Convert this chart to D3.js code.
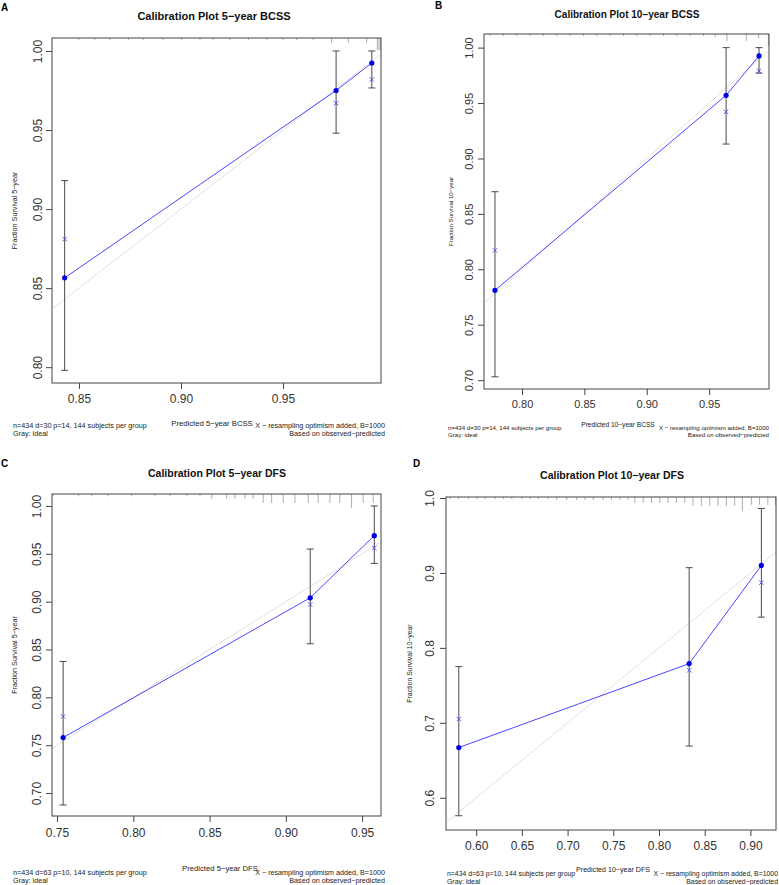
<!DOCTYPE html>
<html>
<head>
<meta charset="utf-8">
<script src="https://cdn.jsdelivr.net/npm/d3@7"></script>
<style>
  body { margin: 0; background: #fff; }
  svg text { font-family: "Liberation Sans", Arial, sans-serif; }
</style>
</head>
<body>
<div class="chart"></div>
<script>
// ---- data ----
// A: 5-year BCSS
var predA = [0.843, 0.976, 0.9935];
var obsA = [0.8565, 0.975, 0.9924];
var corrA = [0.881, 0.967, 0.982];
var lowA = [0.798, 0.948, 0.9766];
var highA = [0.918, 1.0, 1.0];
var rugXA = [0.850, 0.8578, 0.8652, 0.8742, 0.8815, 0.8913, 0.9003, 0.9093, 0.9158, 0.9240, 0.9330, 0.9420, 0.9501, 0.9567, 0.9648, 0.9738, 0.9820, 0.9910, 0.9962, 0.9970, 0.9978];
var rugHA = [0.7, 0.7, 0.7, 0.7, 0.7, 0.7, 0.7, 0.7, 0.7, 0.7, 0.7, 0.7, 0.7, 0.7, 0.7, 1.7, 1.7, 1.7, 4, 4, 4];

// B: 10-year BCSS
var predB = [0.7783, 0.9636, 0.990];
var obsB = [0.781, 0.957, 0.9925];
var corrB = [0.817, 0.942, 0.979];
var lowB = [0.703, 0.913, 0.977];
var highB = [0.870, 1.0, 1.0];
var rugXB = [0.7743, 0.7850, 0.7957, 0.8064, 0.8171, 0.8279, 0.8385, 0.8492, 0.8600, 0.8706, 0.8813, 0.8920, 0.9027, 0.9134, 0.9241, 0.9348, 0.9455, 0.9549, 0.9643, 0.9798, 0.9897, 0.9975];
var rugHB = [0.7, 0.7, 0.7, 0.7, 0.7, 0.7, 0.7, 0.7, 0.7, 0.7, 0.7, 0.7, 0.7, 0.7, 0.7, 0.7, 0.7, 1, 2.3, 2.3, 1.5, 4];

// C: 5-year DFS
var predC = [0.754, 0.916, 0.958];
var obsC = [0.758, 0.904, 0.969];
var corrC = [0.780, 0.897, 0.956];
var lowC = [0.6875, 0.856, 0.940];
var highC = [0.8375, 0.955, 1.0];
var rugXC = [0.7476, 0.7640, 0.7727, 0.7836, 0.7989, 0.8142, 0.8240, 0.8350, 0.8437, 0.8514, 0.8612, 0.8666, 0.8732, 0.8786, 0.8852, 0.8907, 0.8983, 0.9060, 0.9147, 0.9212, 0.9289, 0.9354, 0.9431, 0.9507, 0.9573];
var rugHC = [0.8, 0.8, 0.8, 0.8, 0.8, 0.8, 0.8, 0.8, 0.8, 1.6, 1.6, 1.6, 1.6, 1.6, 3, 3, 3, 3, 3, 3, 3, 3, 4.6, 3, 3];

// D: 10-year DFS
var predD = [0.581, 0.833, 0.912];
var obsD = [0.667, 0.779, 0.910];
var corrD = [0.705, 0.770, 0.887];
var lowD = [0.576, 0.669, 0.841];
var highD = [0.775, 0.907, 0.986];
var rugXD = [0.5716, 0.5807, 0.5916, 0.6008, 0.6098, 0.6207, 0.6298, 0.6390, 0.6499, 0.6590, 0.6680, 0.6789, 0.6881, 0.6990, 0.7099, 0.7190, 0.7281, 0.7390, 0.7481, 0.7572, 0.7663, 0.7736, 0.7827, 0.7918, 0.8009, 0.8099, 0.8191, 0.8282, 0.8372, 0.8464, 0.8555, 0.8645, 0.8737, 0.8828, 0.8912, 0.9010, 0.9100, 0.9191, 0.9275];
var rugHD = [0.7, 0.7, 0.7, 0.7, 0.7, 0.7, 0.7, 0.7, 0.7, 0.7, 0.7, 0.7, 1, 1, 1, 1, 1, 1, 1, 1, 1, 2, 2, 2, 2, 2, 2, 2, 3, 3, 3, 3, 3, 3, 4.8, 2.6, 2.6, 2.6, 2.6];

var svg = d3.select(".chart")
  .append("svg")
  .attr("width", 779)
  .attr("height", 885);

var panels = [
  { tag: "A", title: "Calibration Plot 5\u2212year BCSS", box: [52, 38, 381, 383],
    xlim: [0.8368, 0.998], ylim: [0.790, 1.0082],
    xticks: [0.85, 0.90, 0.95], yticks: [0.80, 0.85, 0.90, 0.95, 1.00], fmt: ".2f",
    pred: predA, obs: obsA, corr: corrA, low: lowA, high: highA, rugX: rugXA, rugH: rugHA,
    ylab: "Fraction Survival 5\u2212year", xlab: "Predicted 5\u2212year BCSS",
    info: "n=434 d=30 p=14, 144 subjects per group",
    tagPos: [1, 11], titleX: 214, titleY: 20, titleFont: 11, tickFont: 12, smallFont: 7.2, xlabFont: 7.7,
    ylabX: 17, xlabX: 212, xlabY: 426, infoY: 428, ytickX: 42, xtickY: 403, infoX: 13, rightX: 385 },
  { tag: "B", title: "Calibration Plot 10\u2212year BCSS", box: [484, 34, 769, 389],
    xlim: [0.7695, 0.998], ylim: [0.692, 1.0123],
    xticks: [0.80, 0.85, 0.90, 0.95], yticks: [0.70, 0.75, 0.80, 0.85, 0.90, 0.95, 1.00], fmt: ".2f",
    pred: predB, obs: obsB, corr: corrB, low: lowB, high: highB, rugX: rugXB, rugH: rugHB,
    ylab: "Fraction Survival 10\u2212year", xlab: "Predicted 10\u2212year BCSS",
    info: "n=434 d=30 p=14, 144 subjects per group",
    tagPos: [435, 9], titleX: 627, titleY: 18, titleFont: 10, tickFont: 11, smallFont: 6.1, xlabFont: 6.6,
    ylabX: 453, xlabX: 618, xlabY: 427, infoY: 430, ytickX: 473, xtickY: 408, infoX: 448, rightX: 769 },
  { tag: "C", title: "Calibration Plot 5\u2212year DFS", box: [52, 494, 381, 816],
    xlim: [0.7467, 0.9624], ylim: [0.676, 1.0125],
    xticks: [0.75, 0.80, 0.85, 0.90, 0.95], yticks: [0.70, 0.75, 0.80, 0.85, 0.90, 0.95, 1.00], fmt: ".2f",
    pred: predC, obs: obsC, corr: corrC, low: lowC, high: highC, rugX: rugXC, rugH: rugHC,
    ylab: "Fraction Survival 5\u2212year", xlab: "Predicted 5\u2212year DFS",
    info: "n=434 d=63 p=10, 144 subjects per group",
    tagPos: [1, 467], titleX: 217, titleY: 477, titleFont: 10.5, tickFont: 12, smallFont: 7.2, xlabFont: 7.7,
    ylabX: 17, xlabX: 220, xlabY: 871, infoY: 875, ytickX: 41, xtickY: 837, infoX: 13, rightX: 385 },
  { tag: "D", title: "Calibration Plot 10\u2212year DFS", box: [446, 497, 776, 830],
    xlim: [0.567, 0.928], ylim: [0.557, 1.0013],
    xticks: [0.60, 0.65, 0.70, 0.75, 0.80, 0.85, 0.90], yticks: [0.6, 0.7, 0.8, 0.9, 1.0], fmt: ".1f",
    xfmt: ".2f",
    pred: predD, obs: obsD, corr: corrD, low: lowD, high: highD, rugX: rugXD, rugH: rugHD,
    ylab: "Fraction Survival 10\u2212year", xlab: "Predicted 10\u2212year DFS",
    info: "n=434 d=63 p=10, 144 subjects per group",
    tagPos: [413, 467], titleX: 612, titleY: 479, titleFont: 10.5, tickFont: 12, smallFont: 6.9, xlabFont: 7.1,
    ylabX: 412, xlabX: 613, xlabY: 872, infoY: 876, ytickX: 434, xtickY: 850, infoX: 447, rightX: 778 }
];

panels.forEach(function(p) {
  var x0 = p.box[0], y0 = p.box[1], x1 = p.box[2], y1 = p.box[3];
  var x = d3.scaleLinear().domain(p.xlim).range([x0, x1]);
  var y = d3.scaleLinear().domain(p.ylim).range([y1, y0]);
  var g = svg.append("g");

  // panel letter and title
  g.append("text").attr("x", p.tagPos[0]).attr("y", p.tagPos[1])
    .attr("font-size", 10).attr("font-weight", "bold").text(p.tag);
  g.append("text").attr("x", p.titleX).attr("y", p.titleY)
    .attr("text-anchor", "middle").attr("font-size", p.titleFont).attr("font-weight", "bold")
    .attr("fill", "#111").text(p.title);

  var clipId = "clip" + p.tag;
  g.append("clipPath").attr("id", clipId).append("rect")
    .attr("x", x0).attr("y", y0).attr("width", x1 - x0).attr("height", y1 - y0);
  var inner = g.append("g").attr("clip-path", "url(#" + clipId + ")");

  // ideal line
  inner.append("line")
    .attr("x1", x(p.xlim[0])).attr("y1", y(p.xlim[0]))
    .attr("x2", x(p.xlim[1])).attr("y2", y(p.xlim[1]))
    .attr("stroke", "#e2e2e2").attr("stroke-width", 1);

  // rug of predicted values along the top
  var unit = 3;
  inner.selectAll("line.rug").data(p.rugX).enter().append("line")
    .attr("class", "rug")
    .attr("x1", function(d) { return x(d); }).attr("x2", function(d) { return x(d); })
    .attr("y1", y0).attr("y2", function(d, i) { return y0 + p.rugH[i] * unit; })
    .attr("stroke", "#999").attr("stroke-width", 0.8);

  // error bars
  p.pred.forEach(function(v, i) {
    var bx = x(v);
    g.append("line").attr("x1", bx).attr("x2", bx).attr("y1", y(p.low[i])).attr("y2", y(p.high[i]))
      .attr("stroke", "#4a4a4a").attr("stroke-width", 1);
    [p.low[i], p.high[i]].forEach(function(e) {
      g.append("line").attr("x1", bx - 3.5).attr("x2", bx + 3.5).attr("y1", y(e)).attr("y2", y(e))
        .attr("stroke", "#4a4a4a").attr("stroke-width", 1);
    });
  });

  // observed line + points
  var pts = p.pred.map(function(v, i) { return [v, p.obs[i]]; });
  g.append("path").datum(pts)
    .attr("d", d3.line().x(function(d) { return x(d[0]); }).y(function(d) { return y(d[1]); }))
    .attr("fill", "none").attr("stroke", "#4848ff").attr("stroke-width", 1);
  g.selectAll("circle.obs").data(pts).enter().append("circle")
    .attr("cx", function(d) { return x(d[0]); }).attr("cy", function(d) { return y(d[1]); })
    .attr("r", 2.6).attr("fill", "#0000e6");

  // bias-corrected x marks
  p.pred.forEach(function(v, i) {
    var cx = x(v), cy = y(p.corr[i]), s = 2.2;
    g.append("path")
      .attr("d", "M" + (cx - s) + "," + (cy - s) + "L" + (cx + s) + "," + (cy + s) +
                 "M" + (cx - s) + "," + (cy + s) + "L" + (cx + s) + "," + (cy - s))
      .attr("stroke", "#4a4aff").attr("stroke-width", 0.9);
  });

  // box
  g.append("rect").attr("x", x0).attr("y", y0).attr("width", x1 - x0).attr("height", y1 - y0)
    .attr("fill", "none").attr("stroke", "#444").attr("stroke-width", 1);

  // axes
  var bottomAxis = d3.axisBottom(x).tickValues(p.xticks).tickSize(6)
    .tickFormat(d3.format(p.xfmt || p.fmt));
  var ax = g.append("g").attr("transform", "translate(0," + y1 + ")").call(bottomAxis);
  ax.select(".domain").remove();
  ax.selectAll("line").attr("stroke", "#444");
  ax.selectAll("text").attr("font-size", p.tickFont).attr("fill", "#333")
    .attr("y", p.xtickY - y1).attr("dy", 0);

  var leftAxis = d3.axisLeft(y).tickValues(p.yticks).tickSize(6)
    .tickFormat(d3.format(p.fmt));
  var ay = g.append("g").attr("transform", "translate(" + x0 + ",0)").call(leftAxis);
  ay.select(".domain").remove();
  ay.selectAll("line").attr("stroke", "#444");
  ay.selectAll("text").attr("font-size", p.tickFont).attr("fill", "#333")
    .attr("x", 0).attr("dy", 0).attr("text-anchor", "middle")
    .attr("transform", "translate(" + (p.ytickX - x0) + ",0) rotate(-90)");

  // axis titles
  g.append("text").attr("transform", "translate(" + p.ylabX + "," + ((y0 + y1) / 2) + ") rotate(-90)")
    .attr("text-anchor", "middle").attr("font-size", p.smallFont).attr("fill", "#222").text(p.ylab);
  g.append("text").attr("x", p.xlabX).attr("y", p.xlabY)
    .attr("text-anchor", "middle").attr("font-size", p.xlabFont).attr("fill", "#222").text(p.xlab);

  // footnotes
  var lh = p.smallFont + 1;
  g.append("text").attr("x", p.infoX).attr("y", p.infoY)
    .attr("font-size", p.smallFont).attr("fill", "#222").text(p.info);
  g.append("text").attr("x", p.infoX).attr("y", p.infoY + lh)
    .attr("font-size", p.smallFont).attr("fill", "#222").text("Gray: ideal");
  g.append("text").attr("x", p.rightX).attr("y", p.infoY)
    .attr("text-anchor", "end").attr("font-size", p.smallFont).attr("fill", "#222")
    .text("X \u2212 resampling optimism added, B=1000");
  g.append("text").attr("x", p.rightX).attr("y", p.infoY + lh)
    .attr("text-anchor", "end").attr("font-size", p.smallFont).attr("fill", "#222")
    .text("Based on observed\u2212predicted");
});
</script>
</body>
</html>
